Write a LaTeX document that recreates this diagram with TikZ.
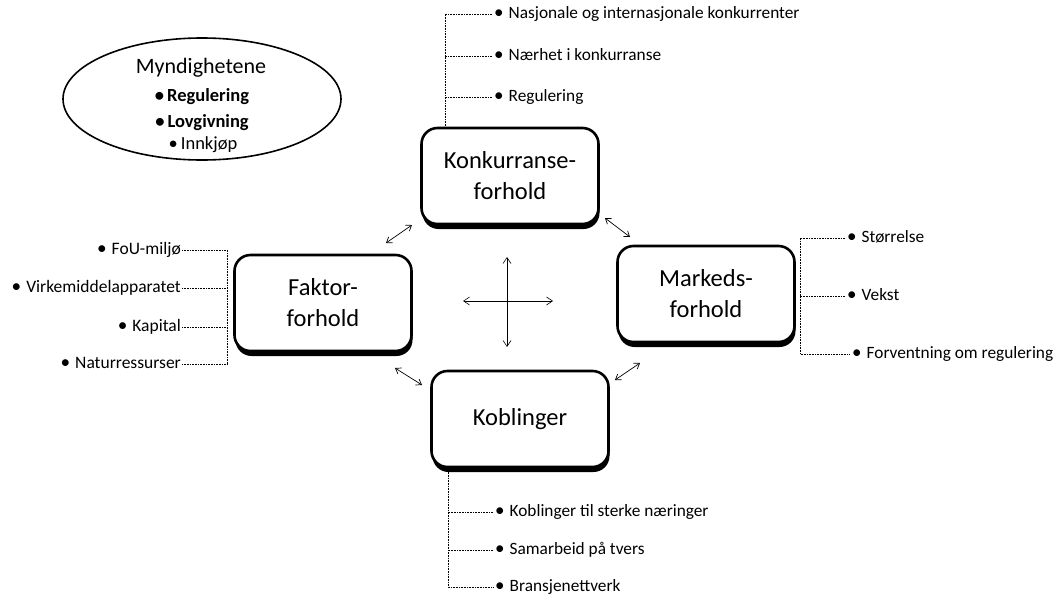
\documentclass[tikz,border=0pt]{standalone}
\usepackage{fontspec}
\setmainfont{Carlito}
\usetikzlibrary{arrows.meta,shapes.geometric,shadows}
\newcommand{\bul}{\scalebox{1.1}{\textbullet}}
\begin{document}
\begin{tikzpicture}[x=1pt,y=-1pt,
  box/.style={draw, line width=2.6pt, rounded corners=16pt, fill=white,
    minimum width=177pt, minimum height=96pt, align=center,
    font=\fontsize{24.5}{31}\selectfont,
    drop shadow={shadow xshift=1pt, shadow yshift=-5pt, fill=black, opacity=1}},
  item/.style={font=\fontsize{17.3}{20}\selectfont, inner xsep=2pt, inner ysep=0pt,
    text height=12pt, text depth=3.7pt, anchor=west},
  litem/.style={font=\fontsize{17.5}{20}\selectfont, inner xsep=1pt, inner ysep=0pt,
    text height=12pt, text depth=3.8pt, anchor=east},
  brk/.style={dash pattern=on 0.9pt off 0.7pt, line width=0.8pt},
  dbl/.style={{Straight Barb[length=5pt,width=7pt]}-{Straight Barb[length=5pt,width=7pt]}, line width=0.7pt},
  cross/.style={{Straight Barb[length=6pt,width=8pt]}-{Straight Barb[length=6pt,width=8pt]}, line width=0.6pt},
  govt/.style={font=\fontsize{18.5}{22}\selectfont, inner sep=0pt},
]
\useasboundingbox (0,0) rectangle (1062,597);

% ellipse
\node[ellipse, draw, line width=1.6pt, minimum width=278pt, minimum height=122pt] (gov) at (202,99) {};
\node[font=\fontsize{22}{26}\selectfont, inner sep=0pt] (gov0) at (201,68) {Myndighetene};
\node[govt] (gov1) at (202,97) {\textbf{\textbullet\hspace{3pt}Regulering}};
\node[govt] (gov2) at (202,123) {\textbf{\textbullet\hspace{3pt}Lovgivning}};
\node[govt] (gov3) at (203,145) {\textbullet\hspace{3pt}Innkjøp};

% boxes
\node[box] (konk) at (510,176) {Konkurranse-\\forhold};
\node[box] (fak) at (323,303) {Faktor-\\forhold};
\node[box] (mark) at (706,294) {Markeds-\\forhold};
\node[box] (kob) at (520,419) {Koblinger};

% top items
\coordinate (tv) at (445,14);
\node[item] (t1) at (492,14) {\bul\hspace{5pt}Nasjonale og internasjonale konkurrenter};
\node[item] (t2) at (492,56) {\bul\hspace{5pt}Nærhet i konkurranse};
\node[item] (t3) at (492,97) {\bul\hspace{5pt}Regulering};
\draw[brk] (t1.west) -| (konk.north -| tv);
\draw[brk] (t2.west) -- (t2.west -| tv);
\draw[brk] (t3.west) -- (t3.west -| tv);

% left items
\coordinate (lv) at (227,250);
\node[litem] (l1) at (182,250) {\bul\hspace{5pt}FoU-miljø};
\node[litem] (l2) at (182,288) {\bul\hspace{5pt}Virkemiddelapparatet};
\node[litem] (l3) at (182,327) {\bul\hspace{5pt}Kapital};
\node[litem] (l4) at (182,364) {\bul\hspace{5pt}Naturressurser};
\draw[brk] (l1.east) -| (l4.east -| lv) -- (l4.east);
\draw[brk] (l2.east) -- (l2.east -| lv);
\draw[brk] (l3.east) -- (l3.east -| lv);

% right items
\coordinate (rv) at (800,238);
\node[item] (r1) at (845,238) {\bul\hspace{5pt}Størrelse};
\node[item] (r2) at (845,296) {\bul\hspace{5pt}Vekst};
\node[item] (r3) at (850,354) {\bul\hspace{5pt}Forventning om regulering};
\draw[brk] (r1.west) -| (r3.west -| rv) -- (r3.west);
\draw[brk] (r2.west) -- (r2.west -| rv);

% bottom items
\coordinate (bv) at (448,588);
\node[item] (b1) at (493,512) {\bul\hspace{5pt}Koblinger til sterke næringer};
\node[item] (b2) at (493,550) {\bul\hspace{5pt}Samarbeid på tvers};
\node[item] (b3) at (493,587) {\bul\hspace{5pt}Bransjenettverk};
\draw[brk] (kob.south -| bv) |- (b3.west);
\draw[brk] (b1.west) -- (b1.west -| bv);
\draw[brk] (b2.west) -- (b2.west -| bv);

% diagonal double arrows
\coordinate (d1a) at (386,243); \coordinate (d1b) at (412,225);
\coordinate (d2a) at (605,218); \coordinate (d2b) at (630,237);
\coordinate (d3a) at (395,368); \coordinate (d3b) at (422,385);
\coordinate (d4a) at (615,380); \coordinate (d4b) at (640,363);
\draw[dbl] (d1a) -- (d1b);
\draw[dbl] (d2a) -- (d2b);
\draw[dbl] (d3a) -- (d3b);
\draw[dbl] (d4a) -- (d4b);

% central cross
\coordinate (cN) at (507,257); \coordinate (cS) at (507,347);
\coordinate (cW) at (463,301); \coordinate (cE) at (553,301);
\draw[cross] (cN) -- (cS);
\draw[cross] (cW) -- (cE);
\end{tikzpicture}
\end{document}
